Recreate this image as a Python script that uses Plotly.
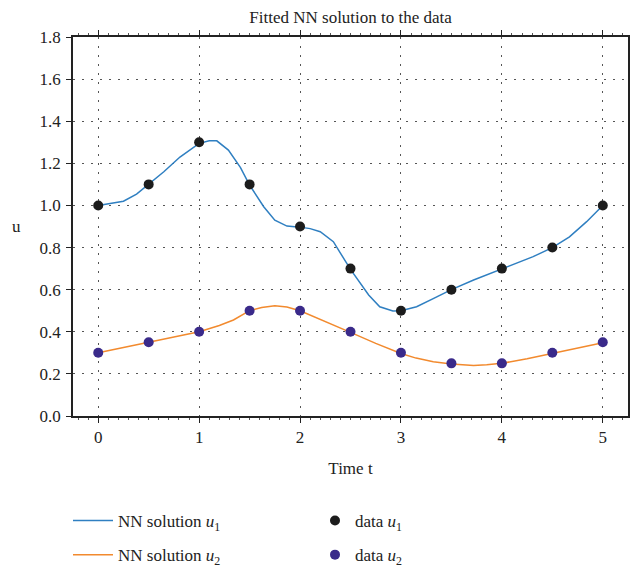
import plotly.graph_objects as go

# Data points
t_data = [0, 0.5, 1.0, 1.5, 2.0, 2.5, 3.0, 3.5, 4.0, 4.5, 5.0]
u1_data = [1.0, 1.1, 1.3, 1.1, 0.9, 0.7, 0.5, 0.6, 0.7, 0.8, 1.0]
u2_data = [0.3, 0.35, 0.4, 0.5, 0.5, 0.4, 0.3, 0.25, 0.25, 0.3, 0.35]

# NN solution curves
t_nn1 = [0, 0.25, 0.38, 0.5, 0.65, 0.81, 1.0, 1.1, 1.175, 1.29, 1.41, 1.5, 1.64, 1.75,
         1.87, 2.0, 2.1, 2.2, 2.33, 2.5, 2.6, 2.68, 2.79, 2.92, 3.0, 3.155, 3.33, 3.5,
         3.72, 4.0, 4.31, 4.5, 4.67, 4.84, 5.0]
u1_nn = [1.0, 1.02, 1.054, 1.1, 1.16, 1.23, 1.295, 1.307, 1.307, 1.263, 1.18, 1.097, 0.994, 0.93,
         0.902, 0.897, 0.89, 0.875, 0.828, 0.696, 0.63, 0.575, 0.519, 0.499, 0.5, 0.519, 0.56, 0.6,
         0.646, 0.7, 0.757, 0.8, 0.851, 0.923, 1.0]
t_nn2 = [0, 0.5, 1.0, 1.2, 1.34, 1.5, 1.62, 1.75, 1.87, 2.0, 2.25, 2.5, 2.75, 3.0, 3.15,
         3.32, 3.5, 3.72, 3.85, 4.0, 4.25, 4.5, 4.75, 5.0]
u2_nn = [0.3, 0.35, 0.4, 0.43, 0.456, 0.5, 0.515, 0.524, 0.518, 0.5, 0.45, 0.397, 0.345, 0.297, 0.275,
         0.258, 0.247, 0.24, 0.243, 0.25, 0.272, 0.297, 0.322, 0.348]

FONT = "Liberation Serif"
FS = 17
BLUE = "#2f7fc1"
ORANGE = "#f28a2e"
BLACK = "#1c1c1c"
PURPLE = "#3a2a8a"
TXT = "#222"

fig = go.Figure()
fig.add_trace(go.Scatter(x=t_nn1, y=u1_nn, mode="lines", line=dict(color=BLUE, width=1.5),
                         name="NN solution <i>u</i><sub>1</sub>", legend="legend", legendgroup="a"))
fig.add_trace(go.Scatter(x=t_nn2, y=u2_nn, mode="lines", line=dict(color=ORANGE, width=1.5),
                         name="NN solution <i>u</i><sub>2</sub>", legend="legend", legendgroup="b"))
fig.add_trace(go.Scatter(x=t_data, y=u1_data, mode="markers", marker=dict(color=BLACK, size=10),
                         name="data <i>u</i><sub>1</sub>", legend="legend2", legendgroup="c"))
fig.add_trace(go.Scatter(x=t_data, y=u2_data, mode="markers", marker=dict(color=PURPLE, size=10),
                         name="data <i>u</i><sub>2</sub>", legend="legend2", legendgroup="d"))

axis_common = dict(showline=True, linecolor=TXT, linewidth=1.5, showgrid=True,
                   gridcolor="#555", griddash="2px,7px", gridwidth=1, zeroline=False,
                   ticks="outside", ticklen=5, tickcolor=TXT,
                   tickfont=dict(family=FONT, size=FS, color=TXT))

fig.update_xaxes(range=[-0.25, 5.25], dtick=1, tick0=0, mirror="ticks",
                 minor=dict(ticks="outside", ticklen=2, dtick=0.1, tickcolor="#555", showgrid=False),
                 title=dict(text="Time t", font=dict(family=FONT, size=FS, color=TXT), standoff=16),
                 **axis_common)
fig.update_yaxes(range=[0, 1.8], dtick=0.2, tickformat=".1f", mirror=True, ticklabelstandoff=2,
                 **axis_common)

fig.add_annotation(text="u", xref="paper", yref="paper", x=-0.101, y=0.5,
                   xanchor="center", yanchor="middle", showarrow=False,
                   font=dict(family=FONT, size=FS, color=TXT))

fig.update_layout(
    width=634, height=568,
    margin=dict(l=73, r=6, t=37, b=152, autoexpand=False),
    paper_bgcolor="white", plot_bgcolor="white",
    font=dict(family=FONT, size=FS, color=TXT),
    title=dict(text="Fitted NN solution to the data", x=0.553, xanchor="center", y=0.97, yanchor="middle",
               font=dict(family=FONT, size=FS, color=TXT)),
    legend=dict(xref="container", yref="container", x=68 / 634, y=1 - 503 / 568,
                xanchor="left", yanchor="top", orientation="v", itemwidth=40,
                tracegroupgap=9, font=dict(family=FONT, size=FS), bgcolor="rgba(0,0,0,0)"),
    legend2=dict(xref="container", yref="container", x=315 / 634, y=1 - 503 / 568,
                 xanchor="left", yanchor="top", orientation="v",
                 tracegroupgap=9, font=dict(family=FONT, size=FS), bgcolor="rgba(0,0,0,0)"),
)

fig.write_html("out.html")
